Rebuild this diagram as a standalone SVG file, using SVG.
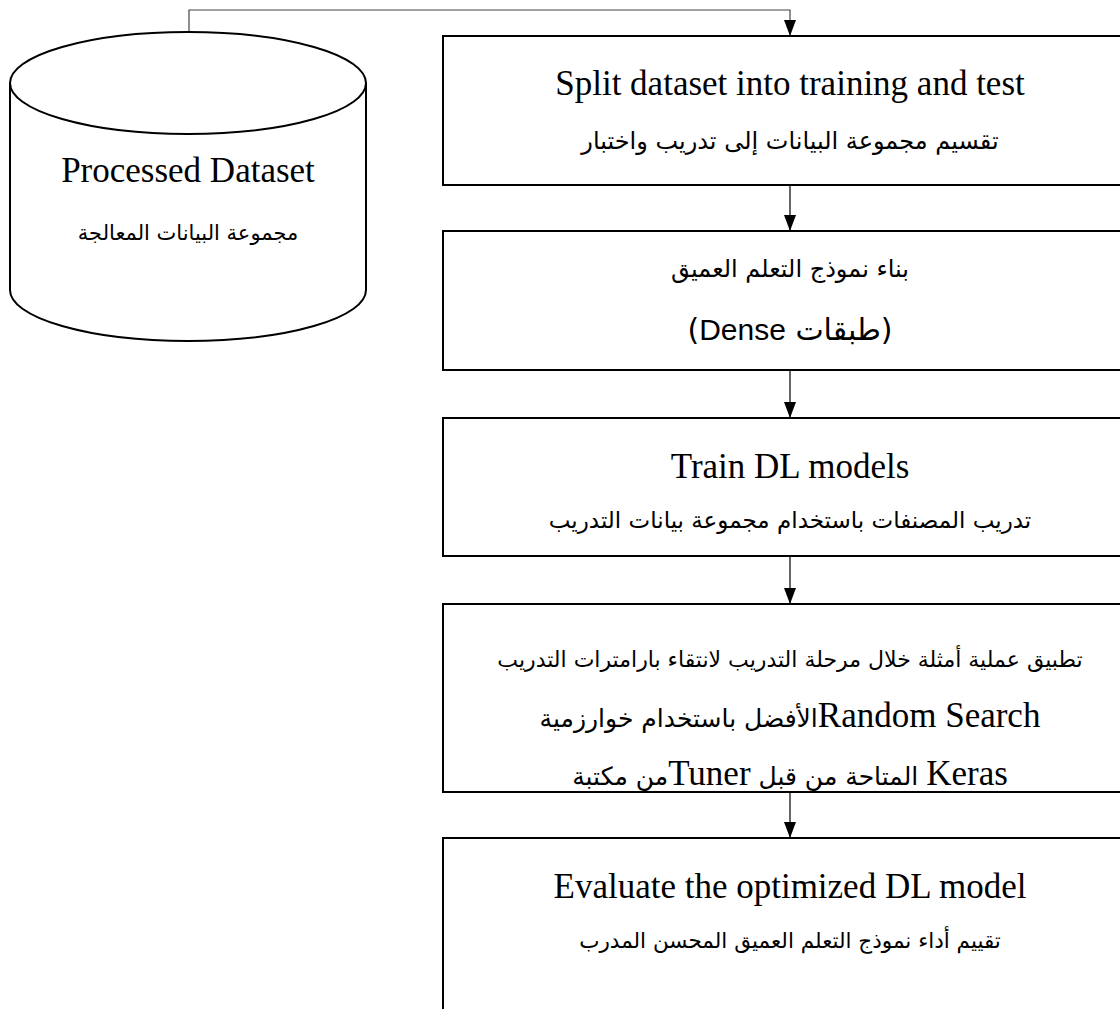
<svg xmlns="http://www.w3.org/2000/svg" width="1120" height="1009" viewBox="0 0 1120 1009">
<style>
  .box { fill: #fff; stroke: #000; stroke-width: 2; }
  .cyl { fill: #fff; stroke: #000; stroke-width: 2; }
  .conn { fill: none; stroke: #000; stroke-width: 1.2; }
  .conn-top { stroke: #444; }
  .en { font-family: "Liberation Serif", "DejaVu Serif", serif; font-size: 35px; fill: #000; text-anchor: middle; }
  .ar { font-family: "DejaVu Sans", sans-serif; font-size: 23px; fill: #000; text-anchor: middle; direction: rtl; unicode-bidi: embed; }
  .ens { font-family: "Liberation Serif", "DejaVu Serif", serif; font-size: 35px; }
  .sans { font-family: "Liberation Sans", "DejaVu Sans", sans-serif; }
</style>
<defs>
  <marker id="arr" viewBox="0 0 16 12" refX="16" refY="6" markerWidth="16" markerHeight="12" markerUnits="userSpaceOnUse" orient="auto">
    <path d="M0,0 L16,6 L0,12 Z" fill="#000"/>
  </marker>
</defs>

<g id="connectors">
  <path class="conn conn-top" d="M189,32 V10 H790 V36" marker-end="url(#arr)"/>
  <line class="conn" x1="790" y1="185" x2="790" y2="231" marker-end="url(#arr)"/>
  <line class="conn" x1="790" y1="370" x2="790" y2="418" marker-end="url(#arr)"/>
  <line class="conn" x1="790" y1="556" x2="790" y2="604" marker-end="url(#arr)"/>
  <line class="conn" x1="790" y1="792" x2="790" y2="838" marker-end="url(#arr)"/>
</g>

<g id="processed-dataset">
  <path class="cyl" d="M10,83 V290 A178,51 0 0 0 366,290 V83"/>
  <ellipse class="cyl" cx="188" cy="83" rx="178" ry="51"/>
  <text class="en" x="188" y="182">Processed Dataset</text>
  <text class="ar" x="188" y="240" style="font-size:21px">مجموعة البيانات المعالجة</text>
</g>

<g id="split">
  <rect class="box" x="443" y="36" width="700" height="149"/>
  <text class="en" x="790" y="95">Split dataset into training and test</text>
  <text class="ar" x="790" y="149" style="font-size:24px">تقسيم مجموعة البيانات إلى تدريب واختبار</text>
</g>

<g id="build">
  <rect class="box" x="443" y="231" width="700" height="139"/>
  <text class="ar" x="790" y="277" style="font-size:24px">بناء نموذج التعلم العميق</text>
  <text class="ar" x="790" y="340" style="font-size:30px">(طبقات <tspan class="sans">Dense</tspan>)</text>
</g>

<g id="train">
  <rect class="box" x="443" y="418" width="700" height="138"/>
  <text class="en" x="790" y="478">Train DL models</text>
  <text class="ar" x="790" y="528">تدريب المصنفات باستخدام مجموعة بيانات التدريب</text>
</g>

<g id="tune">
  <rect class="box" x="443" y="604" width="700" height="188"/>
  <text class="ar" x="790" y="667" style="font-size:22px">تطبيق عملية أمثلة خلال مرحلة التدريب لانتقاء بارامترات التدريب</text>
  <text class="ar" x="790" y="727" style="font-size:25px"><tspan class="ens">Random Search</tspan>الأفضل باستخدام خوارزمية</text>
  <text class="ar" x="790" y="785" style="font-size:25px"><tspan class="ens">Keras</tspan> المتاحة من قبل <tspan class="ens">Tuner</tspan>من مكتبة</text>
</g>

<g id="evaluate">
  <rect class="box" x="443" y="838" width="700" height="200"/>
  <text class="en" x="790" y="898">Evaluate the optimized DL model</text>
  <text class="ar" x="790" y="948" style="font-size:21.5px">تقييم أداء نموذج التعلم العميق المحسن المدرب</text>
</g>
</svg>
